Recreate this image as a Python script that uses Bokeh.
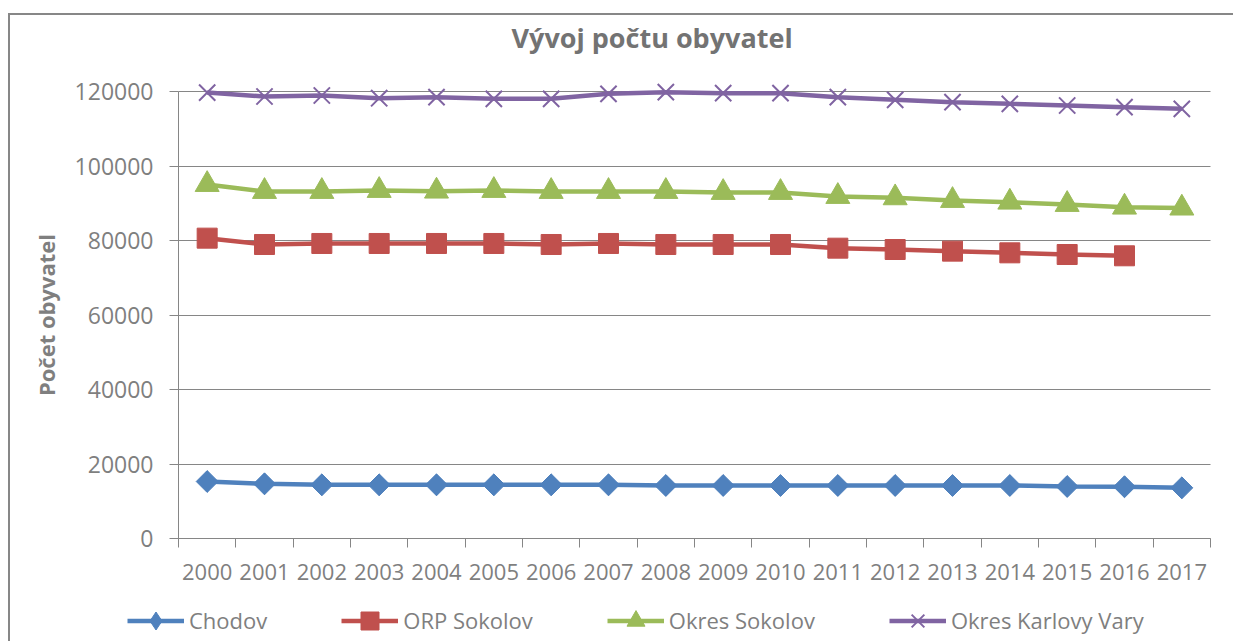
import math
from bokeh.plotting import figure
from bokeh.models import Range1d, FixedTicker, NumeralTickFormatter, Legend
from bokeh.embed import file_html
from bokeh.resources import INLINE

# ---- data ----
years = ["2000", "2001", "2002", "2003", "2004", "2005", "2006", "2007", "2008",
         "2009", "2010", "2011", "2012", "2013", "2014", "2015", "2016", "2017"]
chodov = [15300, 14680, 14410, 14410, 14410, 14410, 14410, 14410, 14230,
          14230, 14230, 14230, 14230, 14230, 14230, 13960, 13900, 13600]
orp_sokolov = [80630, 78930, 79200, 79200, 79200, 79200, 78930, 79200, 78930,
               78930, 78930, 77940, 77580, 77140, 76690, 76240, 75890, float("nan")]
okres_sokolov = [95030, 93160, 93160, 93430, 93250, 93430, 93160, 93160, 93160,
                 92890, 92890, 91820, 91460, 90740, 90290, 89670, 88950, 88700]
okres_kv = [119700, 118660, 118930, 118200, 118480, 118030, 118030, 119380, 119820,
            119550, 119550, 118480, 117770, 117140, 116690, 116250, 115800, 115350]
series_names = ["Chodov", "ORP Sokolov", "Okres Sokolov", "Okres Karlovy Vary"]
y_ticks = [0, 20000, 40000, 60000, 80000, 100000, 120000]
title_text = "Vývoj počtu obyvatel"
y_label = "Počet obyvatel"

FONT = "Open Sans"
GRAY = "#868686"
TXT = "#7f7f7f"

# ---- layout (canvas pixels) ----
W, H = 1225, 628
FRAME_TOP = 40
X0_PX, X1_PX = 168, 1200      # left / right end of category axis
Y0_PX, Y1_PX = 523, 76        # y = 0 and y = top tick

n = len(years)
ymax = y_ticks[-1]
xs = [i + 0.5 for i in range(n)]      # category centres
bounds = [i for i in range(n + 1)]    # category boundaries

x_scale = (X1_PX - X0_PX) / n
y_scale = (Y0_PX - Y1_PX) / ymax
x_range = Range1d(-X0_PX / x_scale, n + (W - X1_PX) / x_scale)
y_range = Range1d(-(H - Y0_PX) / y_scale, ymax + (Y1_PX - FRAME_TOP) / y_scale)

p = figure(width=W, height=H, output_backend="svg", toolbar_location=None,
           x_range=x_range, y_range=y_range,
           min_border=0, min_border_top=FRAME_TOP)
p.styles = {"margin-left": "8px", "margin-top": "13px",
            "border-left": "2px solid #878787", "border-top": "2px solid #878787"}
p.outline_line_color = None
p.background_fill_color = "white"
p.border_fill_color = "white"

# title
p.title.text = title_text
p.title.align = "left"
p.title.offset = 501
p.title.standoff = 0
p.title.text_font = FONT
p.title.text_font_size = "27px"
p.title.text_font_style = "bold"
p.title.text_color = "#737373"

# x axis (category axis at y = 0)
xa = p.xaxis[0]
xa.fixed_location = 0
xa.bounds = (0, n)
xa.ticker = FixedTicker(ticks=xs, minor_ticks=bounds)
xa.major_label_overrides = {x: y for x, y in zip(xs, years)}
xa.major_tick_line_color = None
xa.minor_tick_line_color = GRAY
xa.minor_tick_out = 9
xa.minor_tick_in = 0
xa.axis_line_color = GRAY
xa.major_label_text_font = FONT
xa.major_label_text_font_size = "22px"
xa.major_label_text_color = TXT
xa.major_label_standoff = 16

# y axis (at x = 0)
ya = p.yaxis[0]
ya.fixed_location = 0
ya.bounds = (0, ymax)
yticker = FixedTicker(ticks=y_ticks, minor_ticks=[])
ya.ticker = yticker
ya.formatter = NumeralTickFormatter(format="0")
ya.axis_line_color = GRAY
ya.major_tick_line_color = GRAY
ya.major_tick_out = 9
ya.major_tick_in = 0
ya.minor_tick_line_color = None
ya.major_label_text_font = FONT
ya.major_label_text_font_size = "23px"
ya.major_label_text_color = TXT
ya.major_label_standoff = 16
ya.axis_label = y_label
ya.axis_label_text_font = FONT
ya.axis_label_text_font_size = "22px"
ya.axis_label_text_font_style = "bold"
ya.axis_label_text_color = TXT
ya.axis_label_standoff = 11

# grid
p.xgrid.visible = False
p.ygrid.ticker = yticker
p.ygrid.bounds = (0, ymax)
p.ygrid.cross_bounds = (0, n)
p.ygrid.grid_line_color = GRAY
p.ygrid.grid_line_width = 1

LW = 4.5

c = "#4F81BD"
r1 = p.line(xs, chodov, line_color=c, line_width=LW)
# diamond symbol (used by the legend), fully covered by the rotated squares
k1 = p.scatter(xs, chodov, marker="diamond", size=21, fill_color=c, line_color=c)
p.scatter(xs, chodov, marker="square", angle=math.pi / 4, size=15.5,
          fill_color=c, line_color=c)
c = "#C0504D"
r2 = p.line(xs, orp_sokolov, line_color=c, line_width=LW)
m2 = p.scatter(xs, orp_sokolov, marker="square", size=20, fill_color=c, line_color=c)
c = "#9BBB59"
r3 = p.line(xs, okres_sokolov, line_color=c, line_width=LW)
m3 = p.scatter(xs, okres_sokolov, marker="triangle", size=24, fill_color=c, line_color=c)
c = "#8064A2"
r4 = p.line(xs, okres_kv, line_color=c, line_width=LW)
m4 = p.scatter(xs, okres_kv, marker="x", size=23, line_color=c, line_width=2)

legend = Legend(items=[(series_names[0], [r1, k1]), (series_names[1], [r2, m2]),
                       (series_names[2], [r3, m3]), (series_names[3], [r4, m4])],
                orientation="horizontal", location=(117, 0.5))
legend.glyph_width = 57
legend.glyph_height = 45
legend.label_standoff = 5
legend.spacing = 74
legend.padding = 0
legend.margin = 0
legend.border_line_color = None
legend.background_fill_alpha = 0
legend.label_text_font = FONT
legend.label_text_font_size = "22px"
legend.label_text_color = TXT
p.add_layout(legend, "center")

open("out.html", "w").write(file_html(p, INLINE))
